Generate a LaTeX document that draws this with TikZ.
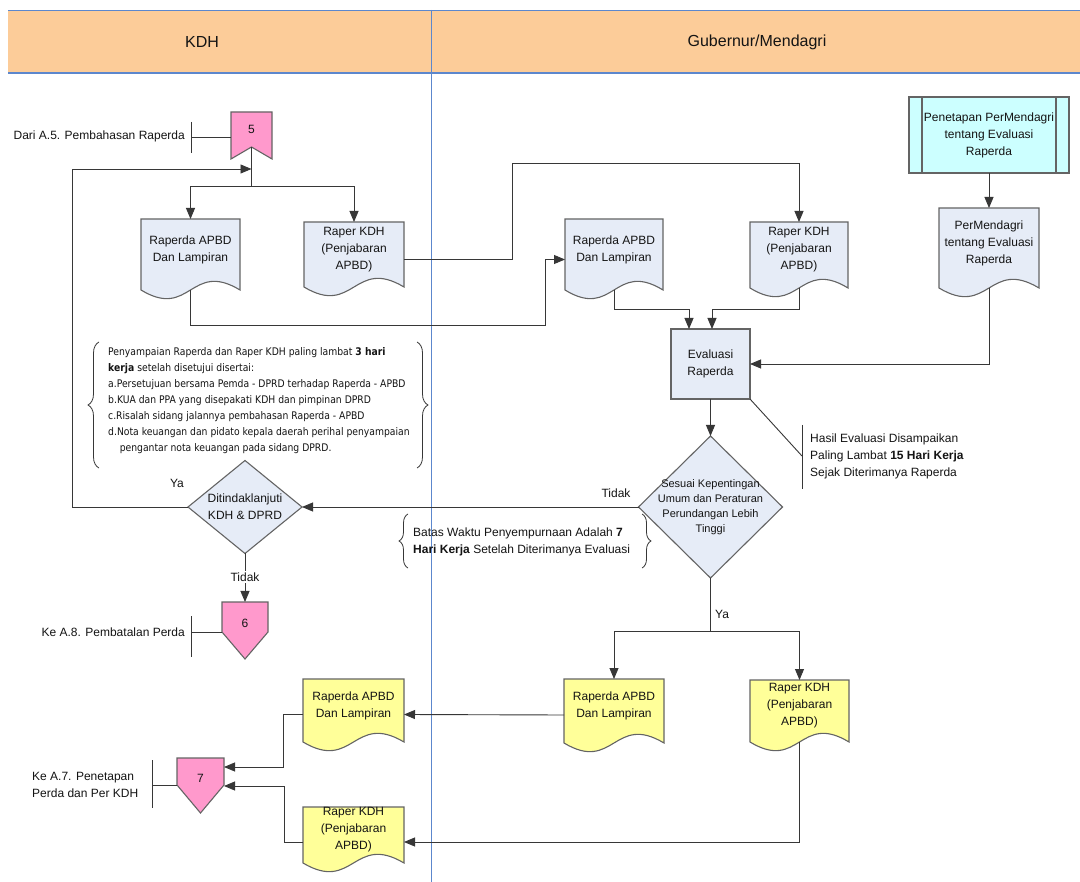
\documentclass[tikz,border=0pt]{standalone}
\usepackage{fontspec}
\setmainfont{Liberation Sans}
\newfontfamily\notefont[FakeStretch=0.88]{DejaVu Sans}
\usetikzlibrary{arrows.meta,decorations.pathreplacing,calc}

\definecolor{bandfill}{RGB}{252,204,153}
\definecolor{laneline}{RGB}{92,135,205}
\definecolor{docblue}{RGB}{230,236,247}
\definecolor{docyellow}{RGB}{255,255,153}
\definecolor{procyan}{RGB}{204,255,255}
\definecolor{offpink}{RGB}{255,153,204}
\definecolor{outline}{RGB}{100,100,100}
\definecolor{wire}{RGB}{55,55,55}
\definecolor{ink}{RGB}{20,20,20}

\tikzset{
  conn/.style={draw=wire, line width=0.9pt},
  arr/.style={conn, -{Triangle[length=11pt,width=9pt]}},
  shapeline/.style={draw=outline, line width=1.1pt},
  frame/.style={draw=none, rectangle, inner sep=0pt, outer sep=0pt},
  doctext/.style={align=center, text=ink, inner sep=0pt, font=\fontsize{12}{17}\selectfont},
  lbl/.style={text=ink, inner sep=1pt, font=\fontsize{12}{17}\selectfont},
  notebrace/.style={draw=wire, line width=0.8pt, decorate, decoration={brace, amplitude=11pt}},
}

% document symbol: name, left x, top y, right x, corner y, fill, text
\newcommand\docshape[7]{%
  \path[shapeline, fill=#6] (#2,#3) -- (#4,#3) -- (#4,#5)
    .. controls ({(#2+#4)/2},{#5-30}) and ({(#2+#4)/2},{#5+30}) .. (#2,#5) -- cycle;
  \node[frame, minimum width={(#4-#2)*1pt}, minimum height={(#5-#3)*1pt}, anchor=north west] (#1) at (#2,#3) {};
  \node[doctext] at ([yshift=5pt]#1.center) {#7};
}

\begin{document}
\begin{tikzpicture}[x=1pt, y=-1pt]
\useasboundingbox[fill=white] (0,0) rectangle (1080,882);

% swimlane header
\fill[bandfill] (8,10) rectangle (1080,73);
\draw[laneline, line width=0.8pt] (8,10) -- (1080,10);
\draw[laneline, line width=1.2pt] (8,73) -- (1080,73);
\draw[laneline, line width=0.8pt] (431,10) -- (431,882);
\node[lbl, font=\fontsize{16}{18}\selectfont] (laneA) at (202,42) {KDH};
\node[lbl, font=\fontsize{16}{18}\selectfont] (laneB) at (757,42) {Gubernur/Mendagri};

% off-page connector 5
\node[frame, minimum width=41pt, minimum height=47pt, anchor=north west] (c5) at (231,112) {};
\path[shapeline, fill=offpink] (c5.north west) -- (c5.north east) -- (c5.south east)
  -- ([yshift=12pt]c5.south) -- (c5.south west) -- cycle;
\node[lbl] (c5t) at (251.5,129) {5};
\coordinate (c5n) at ([yshift=12pt]c5.south);

\node[lbl, anchor=east] (dari) at (186,136) {Dari A.5. Pembahasan Raperda};
\draw[conn] (191,122) -- (191,153);
\coordinate (a5) at (191,137);
\draw[conn] (a5) -- (a5 -| c5.west);

% documents in the KDH lane
\docshape{d1}{141}{219}{240}{290}{docblue}{Raperda APBD\\Dan Lampiran}
\docshape{d2}{304}{222}{404}{287}{docblue}{Raper KDH\\(Penjabaran\\APBD)}

% documents and steps in the Gubernur lane
\docshape{d3}{565}{219}{663}{290}{docblue}{Raperda APBD\\Dan Lampiran}
\docshape{d4}{750}{222}{848}{288}{docblue}{Raper KDH\\(Penjabaran\\APBD)}

\node[frame, minimum width=160pt, minimum height=76pt, anchor=north west] (pp) at (909,97) {};
\path[shapeline, fill=procyan] (pp.north west) rectangle (pp.south east);
\draw[shapeline] ([xshift=13pt]pp.north west) -- ([xshift=13pt]pp.south west);
\draw[shapeline] ([xshift=-13pt]pp.north east) -- ([xshift=-13pt]pp.south east);
\node[doctext] at (pp.center) {Penetapan PerMendagri\\tentang Evaluasi\\Raperda};

\docshape{d5}{939}{208}{1039}{288}{docblue}{PerMendagri\\tentang Evaluasi\\Raperda}

\node[frame, minimum width=79pt, minimum height=70pt, anchor=north west] (ev) at (671,329) {};
\path[shapeline, fill=docblue] (ev.north west) rectangle (ev.south east);
\node[doctext] at (ev.center) {Evaluasi\\Raperda};

% decisions
\node[frame, minimum width=144pt, minimum height=142pt] (ds) at (710.5,507) {};
\path[shapeline, fill=docblue] (ds.north) -- (ds.east) -- (ds.south) -- (ds.west) -- cycle;
\node[doctext, font=\fontsize{11}{15}\selectfont] at (ds.center) {Sesuai Kepentingan\\Umum dan Peraturan\\Perundangan Lebih\\Tinggi};

\node[frame, minimum width=114pt, minimum height=93pt] (dt) at (245,507) {};
\path[shapeline, fill=docblue] (dt.north) -- (dt.east) -- (dt.south) -- (dt.west) -- cycle;
\node[doctext] at (dt.center) {Ditindaklanjuti\\KDH \& DPRD};

% off-page connector 6
\node[frame, minimum width=46pt, minimum height=57pt, anchor=north west] (c6) at (222,602) {};
\path[shapeline, fill=offpink] (c6.north west) -- (c6.north east) -- ([yshift=27pt]c6.south east)
  -- (c6.south) -- ([yshift=27pt]c6.south west) -- cycle;
\node[lbl] (c6t) at (245,623) {6};
\node[lbl, anchor=east] (kea8) at (186,632) {Ke A.8. Pembatalan Perda};
\draw[conn] (191,616) -- (191,657);
\coordinate (a6) at (191,632);
\draw[conn] (a6) -- (a6 -| c6.west);

% results after evaluation
\docshape{d6}{564}{679}{664}{743}{docyellow}{Raperda APBD\\Dan Lampiran}
\docshape{d7}{750}{680}{849}{742}{docyellow}{Raper KDH\\(Penjabaran\\APBD)}
\docshape{d8}{303}{679}{404}{742}{docyellow}{Raperda APBD\\Dan Lampiran}
\docshape{d9}{303}{807}{404}{863}{docyellow}{Raper KDH\\(Penjabaran\\APBD)}

% off-page connector 7
\node[frame, minimum width=47pt, minimum height=55pt, anchor=north west] (c7) at (177,758) {};
\path[shapeline, fill=offpink] (c7.north west) -- (c7.north east) -- ([yshift=28pt]c7.south east)
  -- (c7.south) -- ([yshift=28pt]c7.south west) -- cycle;
\node[lbl] (c7t) at (200.5,778) {7};
\node[lbl, anchor=west, align=left] (kea7) at (31,784.5) {Ke A.7. Penetapan\\Perda dan Per KDH};
\draw[conn] (152,760) -- (152,808);
\coordinate (a7) at (152,785);
\draw[conn] (a7) -- (a7 -| c7.west);

% notes
\draw[notebrace] (99,468) -- (99,342);
\draw[notebrace] (417,342) -- (417,468);
\node[anchor=north west, align=left, text=ink, inner sep=0pt,
      font=\notefont\fontsize{10.5}{16}\selectfont] (note1) at (108,347)
  {Penyampaian Raperda dan Raper KDH paling lambat \textbf{3 hari}\\
   \textbf{kerja} setelah disetujui disertai:\\
   a.Persetujuan bersama Pemda - DPRD terhadap Raperda - APBD\\
   b.KUA dan PPA yang disepakati KDH dan pimpinan DPRD\\
   c.Risalah sidang jalannya pembahasan Raperda - APBD\\
   d.Nota keuangan dan pidato kepala daerah perihal penyampaian\\
   \hspace*{1.1em}pengantar nota keuangan pada sidang DPRD.};

\draw[notebrace, decoration={brace, amplitude=9pt}] (408,568) -- (408,514);
\draw[notebrace, decoration={brace, amplitude=9pt}] (642,514) -- (642,568);
\node[lbl, anchor=west, align=left, inner sep=0pt] (note2) at (413,542)
  {Batas Waktu Penyempurnaan Adalah \textbf{7}\\\textbf{Hari Kerja} Setelah Diterimanya Evaluasi};

\draw[conn] (802,425) -- (802,489);
\coordinate (hb) at (802,456);
\draw[conn] (ev.south east) -- (hb);
\node[lbl, anchor=west, align=left, inner sep=0pt] (note3) at (810,456)
  {Hasil Evaluasi Disampaikan\\Paling Lambat \textbf{15 Hari Kerja}\\Sejak Diterimanya Raperda};

% flow from connector 5
\coordinate (sp1) at (251.5,186);
\draw[conn] (c5n) -- (sp1);
\draw[arr] (sp1) -| (d1.north);
\draw[arr] (sp1) -| (d2.north);

% return loop when followed up
\coordinate (lp) at (72,169);
\draw[arr] (dt.west) -| (lp) -- (c5n |- lp);
\node[lbl] (ya1) at (177,483) {Ya};

% submission to the Gubernur
\coordinate (b1) at (545,325);
\draw[arr] (d1.south) |- (b1) |- ([yshift=-5pt]d3.west);
\coordinate (b2) at (512,163);
\draw[arr] ([yshift=-5pt]d2.east) -| (b2) -| (d4.north);
\draw[arr] (pp.south) -- (d5.north);

% into the evaluation
\coordinate (m1) at (689,309);
\coordinate (m2) at (712,309);
\draw[arr] (d3.south) |- (m1) -- (m1 |- ev.north);
\draw[arr] (d4.south) |- (m2) -- (m2 |- ev.north);
\draw[arr] (d5.south) |- (ev.east);
\draw[arr] (ev.south) -- (ds.north);

% decision outcomes
\draw[arr] (ds.west) -- (dt.east);
\node[lbl] (tidak1) at (616,493) {Tidak};
\draw[arr] (dt.south) -- (c6.north);
\node[lbl, fill=white, inner sep=1.5pt] (tidak2) at (245,577) {Tidak};

\coordinate (sp2) at (710.5,631);
\draw[conn] (ds.south) -- (sp2);
\node[lbl, anchor=west] (ya2) at (714,614) {Ya};
\draw[arr] (sp2) -| (d6.north);
\draw[arr] (sp2) -| (d7.north);
\draw[arr] ([yshift=-4pt]d6.west) -- ([yshift=-4pt]d8.east);
\draw[arr] (d7.south) |- ([yshift=-7pt]d9.east);

% towards connector 7
\coordinate (k1) at (283,767);
\coordinate (k2) at (284,786);
\draw[arr] ([yshift=-4pt]d8.west) -| (k1) -- (k1 -| c7.east);
\draw[arr] ([yshift=-7pt]d9.west) -| (k2) -- (k2 -| c7.east);
\end{tikzpicture}
\end{document}
